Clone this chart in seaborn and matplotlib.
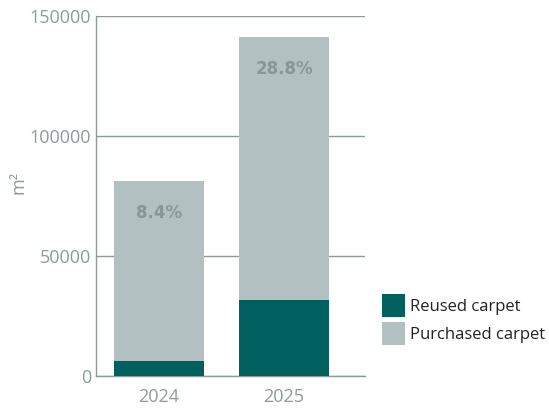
import matplotlib
matplotlib.use("Agg")
import matplotlib.pyplot as plt
from matplotlib.patches import Patch
import numpy as np
import pandas as pd
import seaborn as sns

years = ["2024", "2025"]
reused = [6300, 31600]
purchased = [75000, 109700]
share_labels = ["8.4%", "28.8%"]
y_ticks = [0, 50000, 100000, 150000]

REUSED_COLOR = "#005f5f"
PURCHASED_COLOR = "#b3c0c1"
AXIS_COLOR = "#8d9b9b"
LABEL_COLOR = "#8a9696"

sns.set_theme(style="white")
plt.rcParams["font.family"] = ["Open Sans", "DejaVu Sans"]

df = pd.DataFrame({"year": years, "reused": reused, "purchased": purchased})
df["total"] = df["reused"] + df["purchased"]

fig = plt.figure(figsize=(5.49, 4.12), dpi=100)
ax = fig.add_axes([96 / 549, 1 - 376 / 412, (365 - 96) / 549, (376 - 16) / 412])

# stacked bars: purchased on top of reused
sns.barplot(data=df, x="year", y="total", color=PURCHASED_COLOR, width=0.72,
            saturation=1, linewidth=0, edgecolor="none", ax=ax, zorder=2)
sns.barplot(data=df, x="year", y="reused", color=REUSED_COLOR, width=0.72,
            saturation=1, linewidth=0, edgecolor="none", ax=ax, zorder=3)

ax.set_xlim(-0.504, 1.648)
ax.set_ylim(0, 150000)
ax.set_yticks(y_ticks)
ax.set_yticklabels([str(t) for t in y_ticks])
ax.yaxis.grid(True, color=AXIS_COLOR, linewidth=1.0, zorder=0)
ax.set_axisbelow(True)

for side in ["top", "right"]:
    ax.spines[side].set_visible(False)
for side in ["left", "bottom"]:
    ax.spines[side].set_color(AXIS_COLOR)
    ax.spines[side].set_linewidth(1.0)

ax.tick_params(axis="both", length=0, labelsize=13, colors=AXIS_COLOR)
ax.tick_params(axis="y", pad=3.5)
ax.tick_params(axis="x", pad=9)
ax.set_xlabel("")
ax.set_ylabel("m²", color=AXIS_COLOR, fontsize=13)
ax.yaxis.set_label_coords(-0.253, 0.539)

for i, (tot, lab) in enumerate(zip(df["total"], share_labels)):
    ax.text(i, tot - 13500, lab, ha="center", va="center", fontsize=12,
            fontweight="bold", family="DejaVu Sans", color=LABEL_COLOR, zorder=4)

handles = [Patch(facecolor=REUSED_COLOR, edgecolor="none"),
           Patch(facecolor=PURCHASED_COLOR, edgecolor="none")]
fig.legend(handles, ["Reused carpet", "Purchased carpet"], loc="upper left",
           bbox_to_anchor=(382 / 549, 1 - 294 / 412), frameon=False,
           fontsize=12, handlelength=1.4, handleheight=1.75, handletextpad=0.3,
           labelspacing=0.3, borderpad=0, borderaxespad=0,
           labelcolor="#222222")

fig.savefig("out.png", dpi=100)
